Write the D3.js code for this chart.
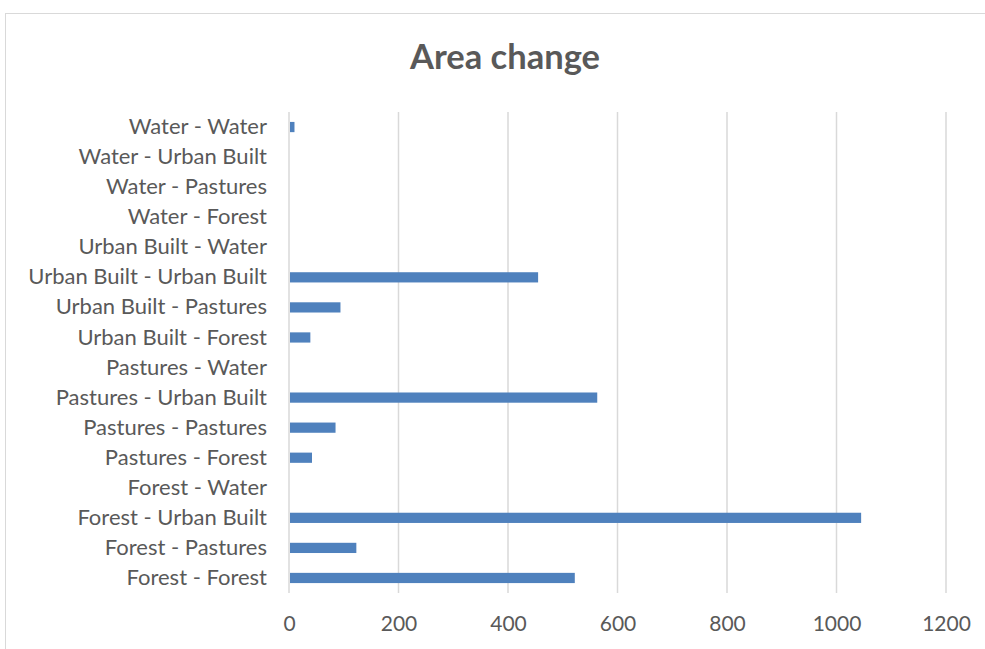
<!DOCTYPE html>
<html>
<head>
<meta charset="utf-8">
<script src="https://cdn.jsdelivr.net/npm/d3@7"></script>
<style>
  body { margin: 0; background: #fff; }
  svg { display: block; font-family: Lato, "Open Sans", sans-serif; }
</style>
</head>
<body>
<svg id="chart" width="985" height="649"></svg>
<script>
// categories, top to bottom as shown
const categories = [
  "Water - Water", "Water - Urban Built", "Water - Pastures", "Water - Forest",
  "Urban Built - Water", "Urban Built - Urban Built", "Urban Built - Pastures", "Urban Built - Forest",
  "Pastures - Water", "Pastures - Urban Built", "Pastures - Pastures", "Pastures - Forest",
  "Forest - Water", "Forest - Urban Built", "Forest - Pastures", "Forest - Forest"
];
const areaValues = [10, 0, 0, 0, 0, 455, 94, 39, 0, 563, 85, 42, 0, 1045, 123, 522];
const xTicks = [0, 200, 400, 600, 800, 1000, 1200];

const svg = d3.select("#chart");
const textColor = "#595959";

// outer chart border (cut off at right and bottom)
svg.append("rect").attr("x", 5.5).attr("y", 13.5).attr("width", 1000).attr("height", 700)
  .attr("fill", "none").attr("stroke", "#d9d9d9");

const margin = { top: 112, left: 289, right: 39, bottom: 56 };
const width = 985 - margin.left - margin.right,
      height = 649 - margin.top - margin.bottom;

const g = svg.append("g").attr("transform", `translate(${margin.left},${margin.top})`);

const x = d3.scaleLinear().domain([0, 1200]).range([0, width]);
const y = d3.scaleBand().domain(categories).range([0, height]).paddingInner(0.66).paddingOuter(0.33);

// gridlines
g.selectAll(".grid").data(xTicks).enter().append("line")
  .attr("x1", d => x(d)).attr("x2", d => x(d))
  .attr("y1", 0).attr("y2", height)
  .attr("stroke", "#d9d9d9").attr("stroke-width", 1.5);

// bars
g.selectAll(".bar").data(categories).enter().append("rect")
  .attr("x", x(0) + 1)
  .attr("y", d => y(d))
  .attr("width", (d, i) => Math.max(0, x(areaValues[i]) - x(0) - 1))
  .attr("height", y.bandwidth())
  .attr("fill", "#4f81bd");

// x axis labels
const xAxis = g.append("g").attr("transform", `translate(0,${height})`)
  .call(d3.axisBottom(x).tickValues(xTicks).tickFormat(d3.format("d")).tickSize(0).tickPadding(23));
xAxis.select(".domain").remove();
xAxis.selectAll("text").attr("font-size", 21).attr("fill", textColor)
  .attr("font-family", "Lato, sans-serif");

// y axis labels
const yAxis = g.append("g").call(d3.axisLeft(y).tickSize(0).tickPadding(22));
yAxis.select(".domain").remove();
yAxis.selectAll("text").attr("font-size", 22).attr("fill", textColor)
  .attr("font-family", "Lato, sans-serif");

// title
svg.append("text").attr("x", 505).attr("y", 69).attr("text-anchor", "middle")
  .attr("font-size", 34.5).attr("font-weight", "bold").attr("fill", textColor)
  .attr("font-family", "Lato, sans-serif")
  .text("Area change");
</script>
</body>
</html>
